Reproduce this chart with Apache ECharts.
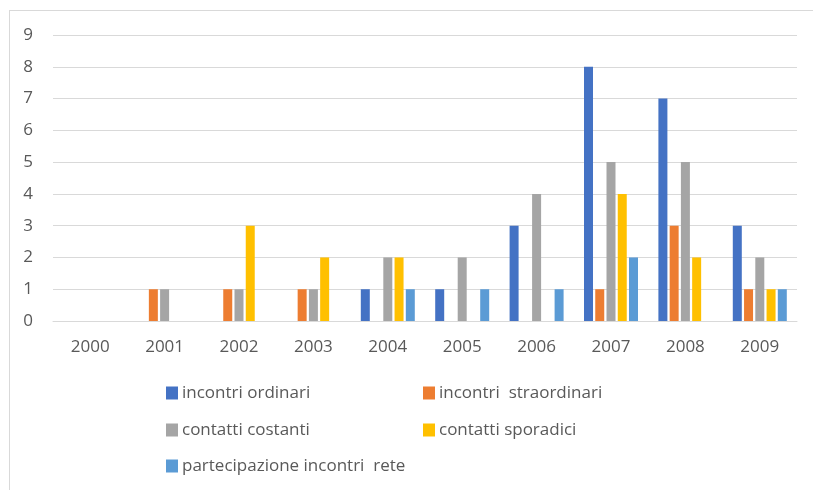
<!DOCTYPE html>
<html>
<head>
<meta charset="utf-8">
<script src="https://cdn.jsdelivr.net/npm/echarts@6/dist/echarts.min.js"></script>
<style>
  html, body { margin: 0; padding: 0; background: #fff; }
  #frame {
    position: absolute; left: 9px; top: 10px; width: 804px; height: 480px;
    border-left: 1px solid #d9d9d9; border-top: 1px solid #d9d9d9;
  }
  #chart { position: absolute; left: 0; top: 0; width: 813px; height: 490px; }
</style>
</head>
<body>
<div id="frame"></div>
<div id="chart"></div>
<script>
// anni sull'asse x
const years = ['2000', '2001', '2002', '2003', '2004', '2005', '2006', '2007', '2008', '2009']

// valori
const incontriOrdinari = [0, 0, 0, 0, 1, 1, 3, 8, 7, 3]
const incontriStraordinari = [0, 1, 1, 1, 0, 0, 0, 1, 3, 1]
const contattiCostanti = [0, 1, 1, 1, 2, 2, 4, 5, 5, 2]
const contattiSporadici = [0, 0, 3, 2, 2, 0, 0, 4, 2, 1]
const partecipazioneRete = [0, 0, 0, 0, 1, 1, 1, 2, 0, 1]

const seriesNames = [
  'incontri ordinari',
  'incontri  straordinari',
  'contatti costanti',
  'contatti sporadici',
  'partecipazione incontri  rete'
]
const seriesData = [incontriOrdinari, incontriStraordinari, contattiCostanti, contattiSporadici, partecipazioneRete]
const colors = ['#4472C4', '#ED7D31', '#A5A5A5', '#FFC000', '#5B9BD5']

const fontFamily = '"Open Sans", "Liberation Sans", sans-serif'
const textColor = '#595959'

// posizioni legenda (due colonne)
const legendPos = [
  { left: 166, top: 383 },
  { left: 423, top: 383 },
  { left: 166, top: 420 },
  { left: 423, top: 420 },
  { left: 166, top: 456 }
]

const chart = echarts.init(document.getElementById('chart'))

chart.setOption({
  animation: false,
  color: colors,
  grid: { left: 53, right: 16, top: 35, bottom: 169 },
  legend: seriesNames.map((name, i) => ({
    data: [name],
    left: legendPos[i].left,
    top: legendPos[i].top,
    icon: 'rect',
    itemWidth: 12,
    itemHeight: 13,
    itemGap: 0,
    padding: 0,
    selectedMode: false,
    textStyle: { color: textColor, fontSize: 17, lineHeight: 20, fontFamily: fontFamily, padding: [0, 0, 0, -1] }
  })),
  xAxis: {
    type: 'category',
    data: years,
    axisTick: { show: false },
    axisLine: { lineStyle: { color: '#d9d9d9', width: 1 } },
    axisLabel: { color: textColor, fontSize: 17, fontFamily: fontFamily, margin: 18 }
  },
  yAxis: {
    type: 'value',
    min: 0,
    max: 9,
    interval: 1,
    axisLine: { show: false },
    axisTick: { show: false },
    axisLabel: { color: textColor, fontSize: 17, fontFamily: fontFamily, margin: 20 },
    splitLine: { lineStyle: { color: '#d9d9d9', width: 1 } }
  },
  series: seriesNames.map((name, i) => ({
    name: name,
    type: 'bar',
    data: seriesData[i],
    barWidth: 9,
    barGap: '25%',
    itemStyle: { color: colors[i] }
  }))
})
</script>
</body>
</html>
